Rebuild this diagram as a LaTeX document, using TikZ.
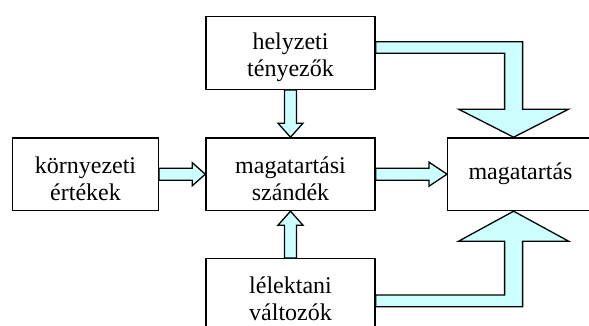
\documentclass[tikz,border=0pt]{standalone}
\usepackage{fontspec}
\setmainfont{Liberation Serif}
\usetikzlibrary{calc,positioning}
\definecolor{nyilszin}{HTML}{CCFFFF}
\newcommand{\sortav}{\rule{0pt}{25pt}}
\tikzset{
 doboz/.style={draw, line width=1.4pt, minimum width=169pt, minimum height=72.6pt,
  align=center, inner sep=0pt, font=\fontsize{24}{27}\selectfont},
 nyil/.style={draw, line width=1.3pt, fill=nyilszin, line join=miter}
}
\begin{document}
\begin{tikzpicture}[x=1pt,y=-1pt]
 \useasboundingbox (0,0) rectangle (589,326);
 \clip (0,0) rectangle (589,326);
 % blocks
 \node[doboz] (helyzeti) at (290.5,53) {\sortav helyzeti\\tényezők};
 \node[doboz] (szandek) at (290.5,174.2) {\sortav magatartási\\szándék};
 \node[doboz, minimum width=145.6pt] (kornyezeti) at (85.5,174.2) {\sortav környezeti\\értékek};
 \node[doboz, minimum width=145.6pt] (magatartas) at (520.5,174.2) {magatartás};
 \node[doboz] (lelektani) at (290.5,295) {\sortav lélektani\\változók};

 % tips of the big arrows
 \coordinate (fcsucs) at ($(magatartas.north west)+(66.6,0)$);
 \coordinate (bcsucs) at ($(magatartas.south west)+(66.6,0)$);

 % small arrows
 \draw[nyil] ($(helyzeti.south)+(-6,0)$) -- ($(szandek.north)+(-6,-14)$) -- ++(-6.5,0)
  -- (szandek.north) -- ($(szandek.north)+(12.5,-14)$) -- ++(-6.5,0)
  -- ($(helyzeti.south)+(6,0)$) -- cycle;
 \draw[nyil] ($(lelektani.north)+(-6,0)$) -- ($(szandek.south)+(-6,14)$) -- ++(-6.5,0)
  -- (szandek.south) -- ($(szandek.south)+(12.5,14)$) -- ++(-6.5,0)
  -- ($(lelektani.north)+(6,0)$) -- cycle;
 \draw[nyil] ($(kornyezeti.east)+(0,-6)$) -- ($(szandek.west)+(-13,-6)$) -- ++(0,-5.5)
  -- (szandek.west) -- ($(szandek.west)+(-13,11.5)$) -- ++(0,-5.5)
  -- ($(kornyezeti.east)+(0,6)$) -- cycle;
 \draw[nyil] ($(szandek.east)+(0,-6)$) -- ($(magatartas.west)+(-18,-6)$) -- ++(0,-6)
  -- (magatartas.west) -- ($(magatartas.west)+(-18,12)$) -- ++(0,-6)
  -- ($(szandek.east)+(0,6)$) -- cycle;

 % big arrows
 \draw[nyil] ($(helyzeti.east)+(0,-11.3)$) -| ($(fcsucs)+(9,-28)$) -- ++(46,0)
  -- (fcsucs) -- ($(fcsucs)+(-55,-28)$) -- ++(46,0)
  |- ($(helyzeti.east)+(0,0.3)$) -- cycle;
 \draw[nyil] ($(lelektani.east)+(0,11.7)$) -| ($(bcsucs)+(9,30)$) -- ++(46,0)
  -- (bcsucs) -- ($(bcsucs)+(-55,30)$) -- ++(46,0)
  |- (lelektani.east) -- cycle;
\end{tikzpicture}
\end{document}
